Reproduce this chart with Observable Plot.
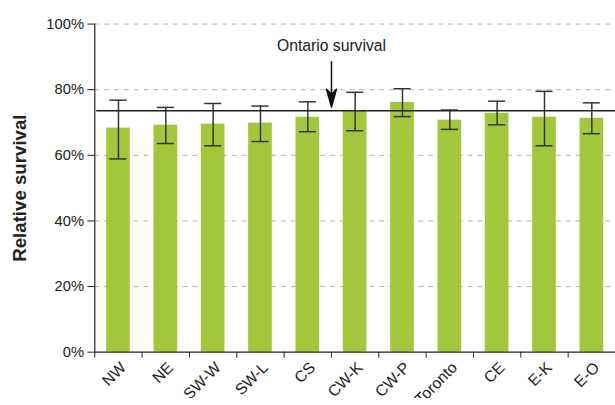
<!DOCTYPE html>
<html>
<head>
<meta charset="utf-8">
<script src="https://cdn.jsdelivr.net/npm/d3@7"></script>
<script src="https://cdn.jsdelivr.net/npm/@observablehq/plot@0.6"></script>
<style>
  html, body { margin: 0; padding: 0; background: #fff; overflow: hidden; }
  #chart { width: 615px; height: 405px; overflow: hidden; }
</style>
</head>
<body>
<div id="chart"></div>
<script>
const regions = ["NW", "NE", "SW-W", "SW-L", "CS", "CW-K", "CW-P", "Toronto", "CE", "E-K", "E-O"];
const survival = [68.3, 69.2, 69.5, 69.8, 71.6, 73.6, 76.1, 70.7, 72.8, 71.6, 71.3];
const lower = [58.9, 63.6, 62.9, 64.2, 67.2, 67.5, 71.8, 67.9, 69.3, 62.9, 66.6];
const upper = [76.8, 74.6, 75.8, 75.0, 76.3, 79.2, 80.3, 73.8, 76.5, 79.5, 76.0];
const ontario = 73.6;
const yTicks = [0, 20, 40, 60, 80, 100];
const annotationLabel = "Ontario survival";
const yLabel = "Relative survival";

const data = regions.map((r, i) => ({region: r, i, v: survival[i], lo: lower[i], hi: upper[i]}));

const arrowShape = {
  draw(context, l) {
    context.moveTo(0, 0);
    context.lineTo(0, -l + 10);
    context.moveTo(0, -l);
    context.lineTo(-5, -l + 18);
    context.lineTo(0, -l + 13);
    context.lineTo(5, -l + 18);
    context.closePath();
  }
};

const chart = Plot.plot({
  width: 626,
  height: 405,
  marginLeft: 96,
  marginRight: 0,
  marginTop: 24,
  marginBottom: 47,
  style: {fontFamily: "'Liberation Sans', Arial, sans-serif", fontSize: "16px", color: "#222", background: "#fff"},
  x: {type: "linear", domain: [0, 11], axis: null},
  y: {domain: [0, 100], axis: null},
  marks: [
    Plot.gridY(yTicks.slice(1), {stroke: "#b5b5b5", strokeOpacity: 1, strokeDasharray: "5,5", strokeWidth: 1}),
    Plot.rectY(data, {x1: d => d.i + 0.25, x2: d => d.i + 0.75, y: "v", fill: "#a4c63b"}),
    Plot.ruleX(data, {x: d => d.i + 0.5, y1: "lo", y2: "hi", stroke: "#333", strokeWidth: 1.5}),
    Plot.ruleY(data, {y: "lo", x1: d => d.i + 0.32, x2: d => d.i + 0.68, stroke: "#333", strokeWidth: 1.5}),
    Plot.ruleY(data, {y: "hi", x1: d => d.i + 0.32, x2: d => d.i + 0.68, stroke: "#333", strokeWidth: 1.5}),
    Plot.ruleY([ontario], {x1: 0.04, x2: 11, stroke: "#222", strokeWidth: 1.5}),
    Plot.axisY({ticks: yTicks, tickFormat: d => d + "%", tickSize: 7, tickPadding: 4, label: null, stroke: "#222", fontSize: 15}),
    Plot.ruleX([0], {y1: 0, y2: 100, stroke: "#222", strokeWidth: 1.2}),
    Plot.ruleY([0], {stroke: "#222", strokeWidth: 1.2}),
    Plot.axisX({ticks: d3.range(12), tickFormat: () => "", tickSize: 6, label: null, stroke: "#222"}),
    Plot.text(data, {x: d => d.i + 0.5, y: () => 0, text: "region", rotate: -45, textAnchor: "end", lineAnchor: "middle", dx: 5, dy: 13, fontSize: 16, fill: "#222"}),
    Plot.text([{x: 5, y: 93.2, t: annotationLabel}], {x: "x", y: "y", text: "t", fill: "#222", fontSize: 16}),
    Plot.vector([{x: 5, y: 88.5}], {x: "x", y: "y", length: 46, rotate: 180, anchor: "start", shape: arrowShape, stroke: "#111", fill: "#111", strokeWidth: 1.5}),
    Plot.text([yLabel], {frameAnchor: "left", textAnchor: "middle", dx: -76, rotate: -90, fontWeight: "bold", fontSize: 19, fill: "#222"})
  ]
});
document.getElementById("chart").appendChild(chart);
</script>
</body>
</html>
